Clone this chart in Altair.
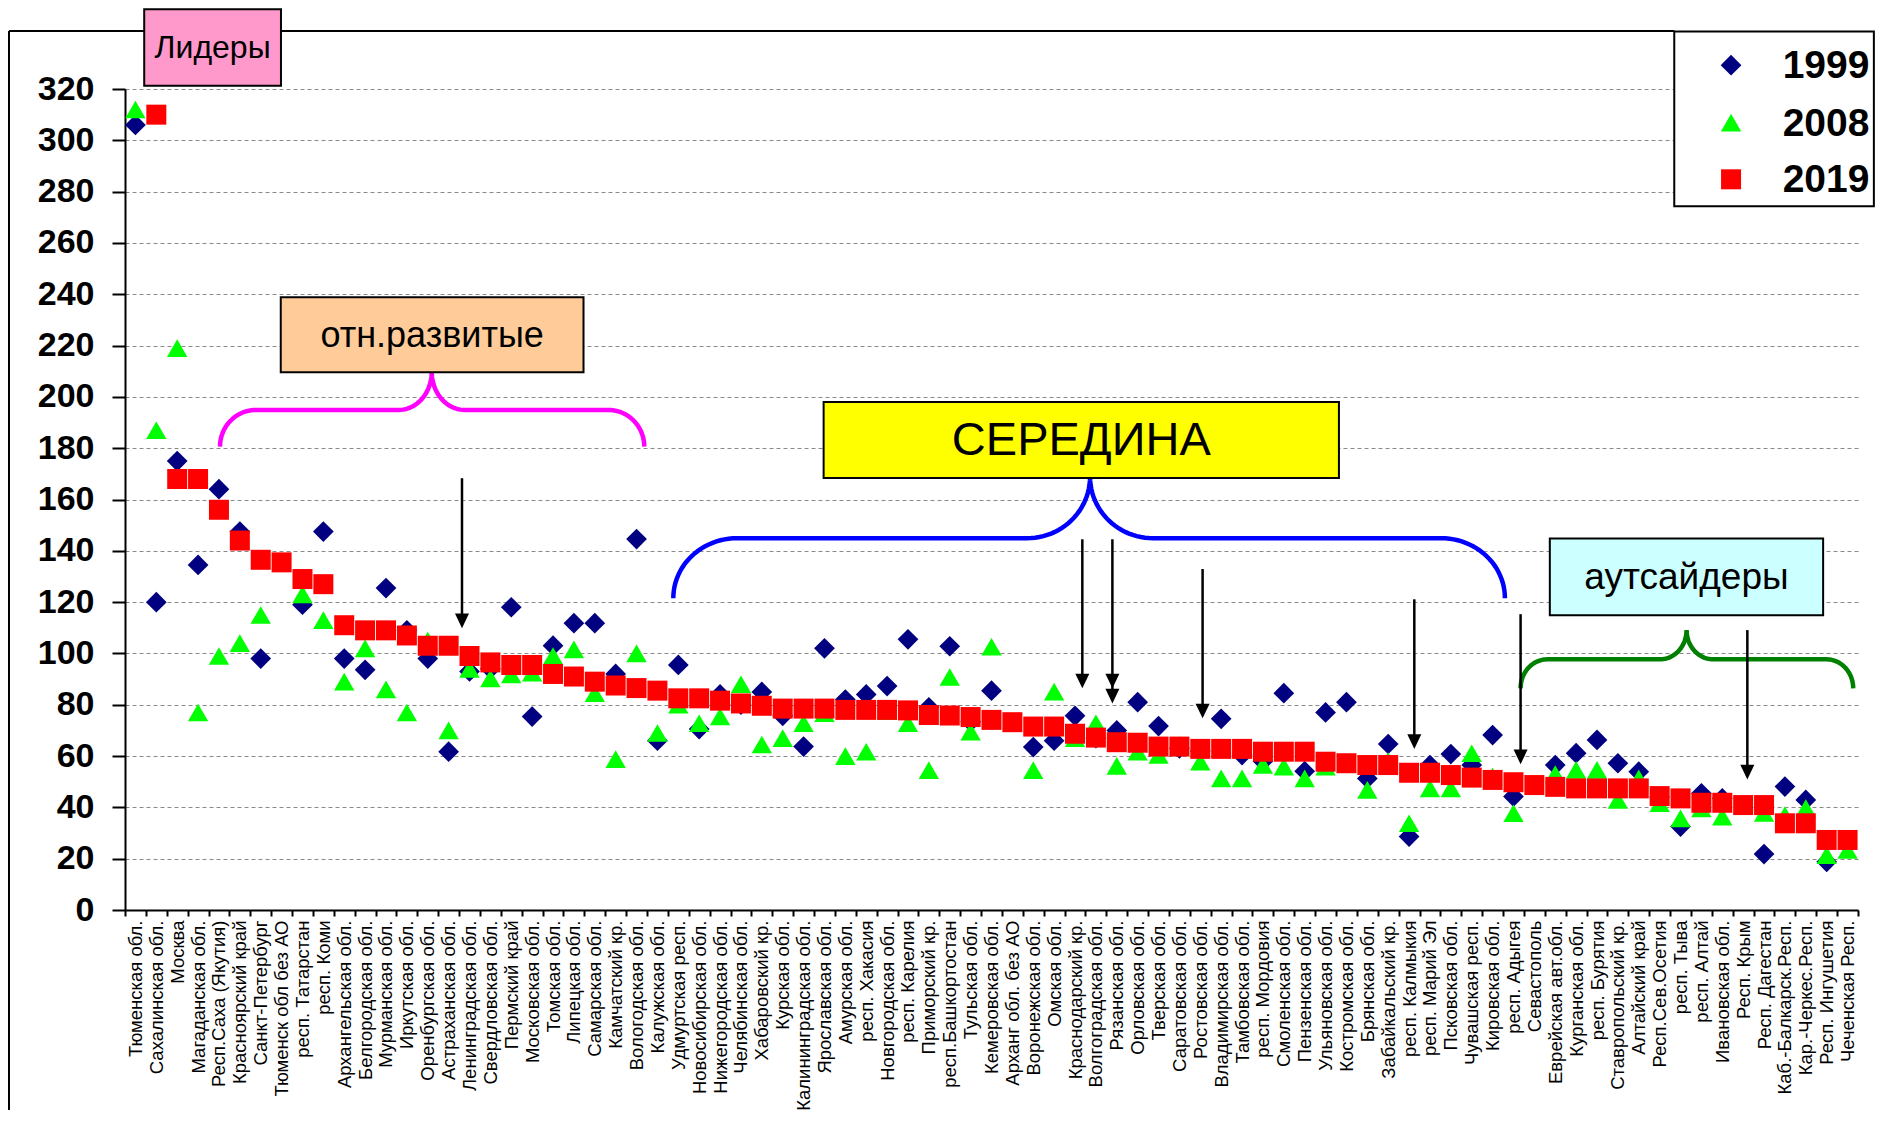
import math
import altair as alt
import pandas as pd

# ---------------- data ----------------
regions = [
    "Тюменская обл.", "Сахалинская обл.", "Москва", "Магаданская обл.", "Респ.Саха (Якутия)",
    "Красноярский край", "Санкт-Петербург", "Тюменск обл без АО", "респ. Татарстан", "респ. Коми",
    "Архангельская обл.", "Белгородская обл.", "Мурманская обл.", "Иркутская обл.", "Оренбургская обл.",
    "Астраханская обл.", "Ленинградская обл.", "Свердловская обл.", "Пермский край", "Московская обл.",
    "Томская обл.", "Липецкая обл.", "Самарская обл.", "Камчатский кр.", "Вологодская обл.",
    "Калужская обл.", "Удмуртская респ.", "Новосибирская обл.", "Нижегородская обл.", "Челябинская обл.",
    "Хабаровский кр.", "Курская обл.", "Калининградская обл.", "Ярославская обл.", "Амурская обл.",
    "респ. Хакасия", "Новгородская обл.", "респ. Карелия", "Приморский кр.", "респ.Башкортостан",
    "Тульская обл.", "Кемеровская обл.", "Арханг обл. без АО", "Воронежская обл.", "Омская обл.",
    "Краснодарский кр.", "Волгоградская обл.", "Рязанская обл.", "Орловская обл.", "Тверская обл.",
    "Саратовская обл.", "Ростовская обл.", "Владимирская обл.", "Тамбовская обл.", "респ. Мордовия",
    "Смоленская обл.", "Пензенская обл.", "Ульяновская обл.", "Костромская обл.", "Брянская обл.",
    "Забайкальский кр.", "респ. Калмыкия", "респ. Марий Эл", "Псковская обл.", "Чувашская респ.",
    "Кировская обл.", "респ. Адыгея", "Севастополь", "Еврейская авт.обл.", "Курганская обл.",
    "респ. Бурятия", "Ставропольский кр.", "Алтайский край", "Респ.Сев.Осетия", "респ. Тыва",
    "респ. Алтай", "Ивановская обл.", "Респ. Крым", "Респ. Дагестан", "Каб.-Балкарск.Респ.",
    "Кар.-Черкес.Респ.", "Респ. Ингушетия", "Чеченская Респ.",
]

v1999 = [
    306, 120, 175, 134.5, 164, 147.5, 98, None, 119, 147.5,
    98, 93.6, 125.5, 109, 98, 61.7, 93, 94, 118, 75.4,
    103, 111.8, 111.8, 92, 144.6, 66, 95.5, 70.5, 84, 80,
    85, 75.7, 63.7, 102, 82, 84, 87.3, 105.5, 79, 102.8,
    73.4, 85.5, None, 63.5, 66, 75.7, 67, 70, 81, 71.7,
    63, 62, 74.5, 60.4, 58, 84.5, 54.1, 77, 81, 51.3,
    64.7, 28.6, 56.5, 60.8, 56.5, 68.2, 44.2, None, 56.5, 61.1,
    66.3, 57.2, 53.9, 44, 32.5, 45.5, 43.5, None, 21.8, 48.1,
    42.9, 18.8, None,
]

v2008 = [
    312, 187, 219, 77, 99, 104, 115, None, 123, 113,
    89, 102, 86, 77, 105, 70, 94, 90.3, 91.8, 92.5,
    99, 101.6, 84.5, 58.8, 100, 69, 80, 72.8, 75.4, 88,
    64.5, 67, 72.8, 76.7, 60, 61.7, 77.5, 72.8, 54.5, 90.8,
    69.5, 102.6, None, 54.5, 85.1, 67, 72.8, 56.2, 61.7, 60.4,
    64.3, 57.8, 51.3, 51.3, 56.5, 55.9, 51.3, 55.9, 57, 46.8,
    58, 33.8, 47.4, 47.4, 61.1, 52, 37.7, None, 53, 54.6,
    54.6, 42.9, 51.3, 41.6, 35.7, 39.6, 36.4, None, 37.8, 37,
    39.7, 21.4, 23.4,
]

v2019 = [
    None, 310, 168, 168, 156, 144, 136.5, 135.5, 129, 127,
    111, 109, 109, 107, 103, 103, 99, 96.5, 95.5, 95.5,
    92, 91, 89, 87.5, 86.5, 85.5, 82.5, 82.5, 81.6, 80.5,
    79.6, 78.5, 78.5, 78.5, 78, 78, 78, 77.8, 76, 75.8,
    75.2, 74.1, 73.2, 71.5, 71.5, 68.7, 67.2, 65.4, 65.2, 63.7,
    63.7, 62.8, 62.8, 62.8, 61.7, 61.7, 61.7, 57.8, 57.2, 56.5,
    56.5, 53.5, 53.5, 52.6, 51.6, 50.7, 49.8, 48.7, 48, 47.4,
    47.4, 47.4, 47.4, 44.4, 43.5, 41.8, 41.8, 40.9, 40.9, 33.8,
    33.8, 27.3, 27.3,
]

years = ["1999", "2008", "2019"]
series_colors = ["#000080", "#00FF00", "#FF0000"]
series_shapes = ["diamond", "triangle-up", "square"]
series_sizes = [430, 400, 361]
y_ticks = list(range(0, 321, 20))

# annotation texts
box_labels = ["Лидеры", "отн.развитые", "СЕРЕДИНА", "аутсайдеры"]

# ---------------- layout ----------------
W, H = 1733, 821
N = len(regions)
FONT = "Liberation Sans, Arial, sans-serif"

rows = []
for yr, vals in zip(years, [v1999, v2008, v2019]):
    for r, v in zip(regions, vals):
        if v is not None:
            rows.append({"region": r, "year": yr, "value": v})
df = pd.DataFrame(rows)

shape_scale = alt.Scale(domain=years, range=series_shapes)
color_scale = alt.Scale(domain=years, range=series_colors)
size_scale = alt.Scale(domain=years, range=series_sizes)
y_scale = alt.Scale(domain=[0, 320], nice=False, zero=True)
u_scale = alt.Scale(domain=[0, N], nice=False, zero=False)

y_axis = alt.Axis(
    title=None, values=y_ticks, labelFont=FONT, labelFontSize=34,
    labelFontWeight="bold", labelColor="black", labelPadding=18,
    tickSize=13, tickWidth=2, tickColor="black", domainColor="black",
    domainWidth=2, grid=True, gridColor="#8a8a8a", gridDash=[4, 3], gridWidth=1,
)

points = alt.Chart(df).mark_point(filled=True, opacity=1, strokeWidth=0).encode(
    x=alt.X(
        "region:N",
        sort=regions,
        scale=alt.Scale(domain=regions, paddingInner=0, paddingOuter=0),
        axis=alt.Axis(
            title=None, labelAngle=270, labelFont=FONT, labelFontSize=18.5,
            labelColor="black", labelLimit=400, labelOverlap=False, labelPadding=4,
            tickBand="extent", tickSize=6, tickWidth=2, tickColor="black",
            domainColor="black", domainWidth=2, grid=False,
        ),
    ),
    y=alt.Y("value:Q", scale=y_scale, axis=y_axis),
    shape=alt.Shape("year:N", scale=shape_scale, legend=None),
    color=alt.Color("year:N", scale=color_scale, legend=None),
    size=alt.Size("year:O", scale=size_scale, legend=None),
)


def ux(field):
    return alt.X(field, type="quantitative", scale=u_scale, axis=None)


def vy(field):
    return alt.Y(field, type="quantitative", scale=y_scale, axis=y_axis)


layers = []

# outer chart frame (top and left edges)
frame = pd.DataFrame([
    {"x": -5.556, "x2": 74.2, "y": 342.6, "y2": 342.6},
    {"x": -5.556, "x2": -5.556, "y": 342.6, "y2": -85.0},
])
layers.append(alt.Chart(frame).mark_rule(color="black", strokeWidth=2).encode(
    x=ux("x"), x2="x2", y=vy("y"), y2="y2"))

# braces
def brace(x0, x1, xm, yend, yh, ypeak, a_end, a_mid, n=24):
    pts = []
    for k in range(n + 1):
        t = k / n * math.pi / 2
        pts.append((x0 + a_end - a_end * math.cos(t), yend + (yh - yend) * math.sin(t)))
    for k in range(n + 1):
        t = k / n * math.pi / 2
        pts.append((xm - a_mid + a_mid * math.sin(t), yh + (ypeak - yh) * (1 - math.cos(t))))
    for k in range(n, -1, -1):
        t = k / n * math.pi / 2
        pts.append((xm + a_mid - a_mid * math.sin(t), yh + (ypeak - yh) * (1 - math.cos(t))))
    for k in range(n, -1, -1):
        t = k / n * math.pi / 2
        pts.append((x1 - a_end + a_end * math.cos(t), yend + (yh - yend) * math.sin(t)))
    return pd.DataFrame([{"i": i, "x": p[0], "y": p[1]} for i, p in enumerate(pts)])


braces = [
    (brace(4.55, 24.87, 14.69, 180.6, 194.9, 209.8, 1.72, 1.58), "#FF00FF"),
    (brace(26.26, 66.09, 46.22, 121.5, 144.9, 168.9, 3.05, 3.02), "#0000FF"),
    (brace(66.84, 82.77, 74.79, 86.4, 97.7, 109.1, 1.28, 1.28), "#008000"),
]
for bdf, col in braces:
    layers.append(alt.Chart(bdf).mark_line(color=col, strokeWidth=4.5, strokeCap="butt").encode(
        x=ux("x"), y=vy("y"), order=alt.Order("i:Q")))

# label boxes
boxes = [
    (0.92, 7.47, 321.3, 351.1, "#FF99CC", 32),
    (7.46, 21.96, 209.6, 238.8, "#FFCC99", 36),
    (33.46, 58.14, 168.4, 198.0, "#FFFF00", 47),
    (68.24, 81.33, 114.9, 144.8, "#CCFFFF", 37),
]
for label, (x1, x2, y1, y2, fill, fs) in zip(box_labels, boxes):
    bdf = pd.DataFrame([{"x": x1, "x2": x2, "y": y1, "y2": y2,
                         "tx": (x1 + x2) / 2, "ty": (y1 + y2) / 2, "t": label}])
    layers.append(alt.Chart(bdf).mark_rect(fill=fill, stroke="black", strokeWidth=2).encode(
        x=ux("x"), x2="x2", y=vy("y"), y2="y2"))
    layers.append(alt.Chart(bdf).mark_text(font=FONT, fontSize=fs, color="black",
                                           align="center", baseline="middle", dy=1).encode(
        x=ux("tx"), y=vy("ty"), text="t:N"))

# arrows
arrows = pd.DataFrame([
    {"x": 16.14, "top": 168.3, "tip": 109.8},
    {"x": 45.85, "top": 144.5, "tip": 86.4},
    {"x": 47.29, "top": 144.5, "tip": 80.5},
    {"x": 51.61, "top": 132.9, "tip": 74.7},
    {"x": 61.75, "top": 121.1, "tip": 62.8},
    {"x": 66.84, "top": 115.3, "tip": 56.8},
    {"x": 77.70, "top": 109.1, "tip": 50.9},
])
arrows["end"] = arrows["tip"] + 3
heads = pd.DataFrame({"x": list(arrows["x"]) + [47.29], "tip": list(arrows["tip"]) + [86.4]})
layers.append(alt.Chart(arrows).mark_rule(color="black", strokeWidth=2.5).encode(
    x=ux("x"), y=vy("top"), y2="end"))
layers.append(alt.Chart(heads).mark_point(
    shape="M-1,-2.1L1,-2.1L0,0Z", filled=True, color="black", opacity=1, size=196, strokeWidth=0
).encode(x=ux("x"), y=vy("tip")))

# legend box
legend_box = pd.DataFrame([{"x": 74.2, "x2": 83.76, "y": 274.3, "y2": 342.4}])
layers.append(alt.Chart(legend_box).mark_rect(fill="white", stroke="black", strokeWidth=2).encode(
    x=ux("x"), x2="x2", y=vy("y"), y2="y2"))
legend_df = pd.DataFrame({"year": years, "sx": [76.92] * 3, "tx": [79.39] * 3,
                          "ly": [329.3, 306.9, 284.8]})

legend_pts = alt.Chart(legend_df).mark_point(filled=True, opacity=1, strokeWidth=0).encode(
    x=ux("sx"), y=vy("ly"),
    shape=alt.Shape("year:N", scale=shape_scale, legend=None),
    color=alt.Color("year:N", scale=color_scale, legend=None),
    size=alt.Size("year:O", scale=size_scale, legend=None),
)
legend_txt = alt.Chart(legend_df).mark_text(
    font=FONT, fontSize=39, fontWeight="bold", color="black", align="left", baseline="middle", dy=1
).encode(x=ux("tx"), y=vy("ly"), text="year:N")

chart = alt.layer(points, *layers, legend_pts, legend_txt).resolve_scale(
    x="independent"
).properties(
    width=W, height=H,
    autosize=alt.AutoSizeParams(type="none"),
    padding={"left": 117, "top": 81, "right": 17, "bottom": 200},
    background="white",
).configure_view(stroke=None)

chart.save("out.html", embed_options={"renderer": "svg", "actions": False})
